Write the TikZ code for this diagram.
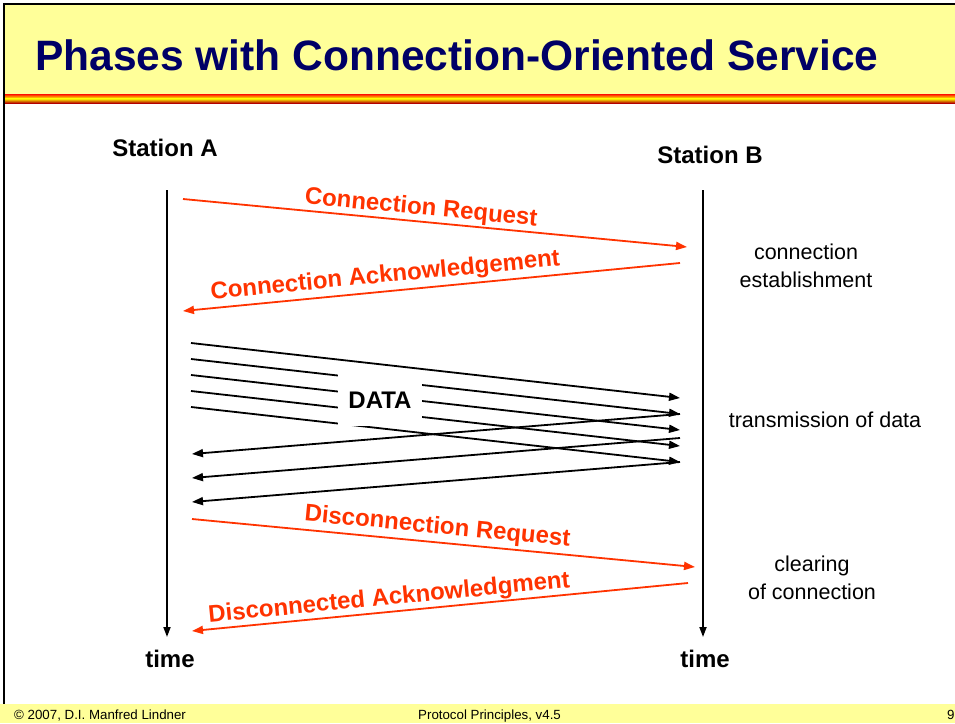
\documentclass[tikz,border=0pt]{standalone}
\usepackage{fontspec}
\setmainfont{Liberation Sans}
\usepackage{xcolor}
\usepackage{tikz}
\usetikzlibrary{arrows}
\usetikzlibrary{arrows.meta}
\usetikzlibrary{positioning}
\definecolor{slideyellow}{RGB}{255,255,153}
\definecolor{titleblue}{RGB}{0,0,102}
\definecolor{msgred}{RGB}{255,51,0}

\begin{document}
\begin{tikzpicture}
        [x=1pt,y=-1pt,
        station/.style={font=\fontsize{24}{28}\selectfont\bfseries,inner sep=0pt},
        phase/.style={font=\fontsize{21.5}{28}\selectfont,align=center,inner sep=0pt},
        msg/.style={font=\fontsize{24}{28}\selectfont\bfseries,text=msgred,sloped,above},
        timeline/.style={-{Triangle[length=10pt,width=7pt]},line width=1.8pt,black},
        to/.style={-{Triangle[length=11pt,width=8pt]},line width=1.8pt,msgred},
        data/.style={-{Triangle[length=11pt,width=8pt]},line width=1.8pt,black},
        footer/.style={font=\fontsize{13.3}{15}\selectfont,inner sep=0pt,anchor=base west}]

\useasboundingbox (0,0) rectangle (955,723);
\fill[white] (0,0) rectangle (955,723);

% header
\fill[slideyellow] (4,4) rectangle (955,94);
\shade[top color=red!90!orange,bottom color=yellow] (4,94) rectangle (955,98.5);
\shade[top color=yellow,bottom color=red!70!black] (4,98.5) rectangle (955,103);
\draw[black,line width=2.5pt] (4,704) -- (4,4) -- (955,4);
\node[font=\fontsize{42.5}{48}\selectfont\bfseries,text=titleblue,anchor=base west,inner sep=0pt] (title) at (35,70) {Phases with Connection-Oriented Service};

% footer
\fill[slideyellow] (0,704) rectangle (955,723);
\node[footer] (copy) at (14,719) {\textcopyright{} 2007, D.I. Manfred Lindner};
\node[footer] (course) at (418,719) {Protocol Principles, v4.5};
\node[footer] (page) at (947,719) {9};

% stations
\node[station] at (165,148) (stationA) {Station A};
\node[station] at (710,155) (stationB) {Station B};
\node[station] at (170,659) (timeA) {time};
\node[station] at (705,659) (timeB) {time};

\coordinate (topA) at (167,190);
\coordinate (endA) at (167,637);
\coordinate (topB) at (703,190);
\coordinate (endB) at (703,637);

\draw[timeline] (topA) -- (endA);
\draw[timeline] (topB) -- (endB);

% phases
\node[phase] at (806,266) (establish) {connection\\establishment};
\node[phase] at (825,420) (transmit) {transmission of data};
\node[phase] at (812,578) (clearing) {clearing\\of connection};

% connection setup
\coordinate (creqA) at (183,199);
\coordinate (creqB) at (687,247);
\coordinate (cackB) at (680,263);
\coordinate (cackA) at (183,311);

\draw[to] (creqA) -- node[msg,pos=0.47,inner sep=1pt] {Connection Request} (creqB);
\draw[to] (cackB) -- node[msg,pos=0.59,inner sep=3pt] {Connection Acknowledgement} (cackA);

% data
\foreach \i in {0,...,4} {
    \coordinate (dataA\i) at (191,343+16*\i);
    \coordinate (dataB\i) at (680,398+16*\i);
    \draw[data] (dataA\i) -- (dataB\i);
}
\foreach \i in {0,...,2} {
    \coordinate (backB\i) at (680,414+24*\i);
    \coordinate (backA\i) at (192,454+24*\i);
    \draw[data] (backB\i) -- (backA\i);
}
\node[fill=white,minimum width=84pt,minimum height=52pt,font=\fontsize{24}{28}\selectfont\bfseries] at (380,400) (data) {DATA};

% disconnection
\coordinate (dreqA) at (192,519);
\coordinate (dreqB) at (695,567);
\coordinate (dackB) at (688,583);
\coordinate (dackA) at (192,631);

\draw[to] (dreqA) -- node[msg,pos=0.485,inner sep=3pt] {Disconnection Request} (dreqB);
\draw[to] (dackB) -- node[msg,pos=0.6,inner sep=1pt] {Disconnected Acknowledgment} (dackA);

\end{tikzpicture}
\end{document}
